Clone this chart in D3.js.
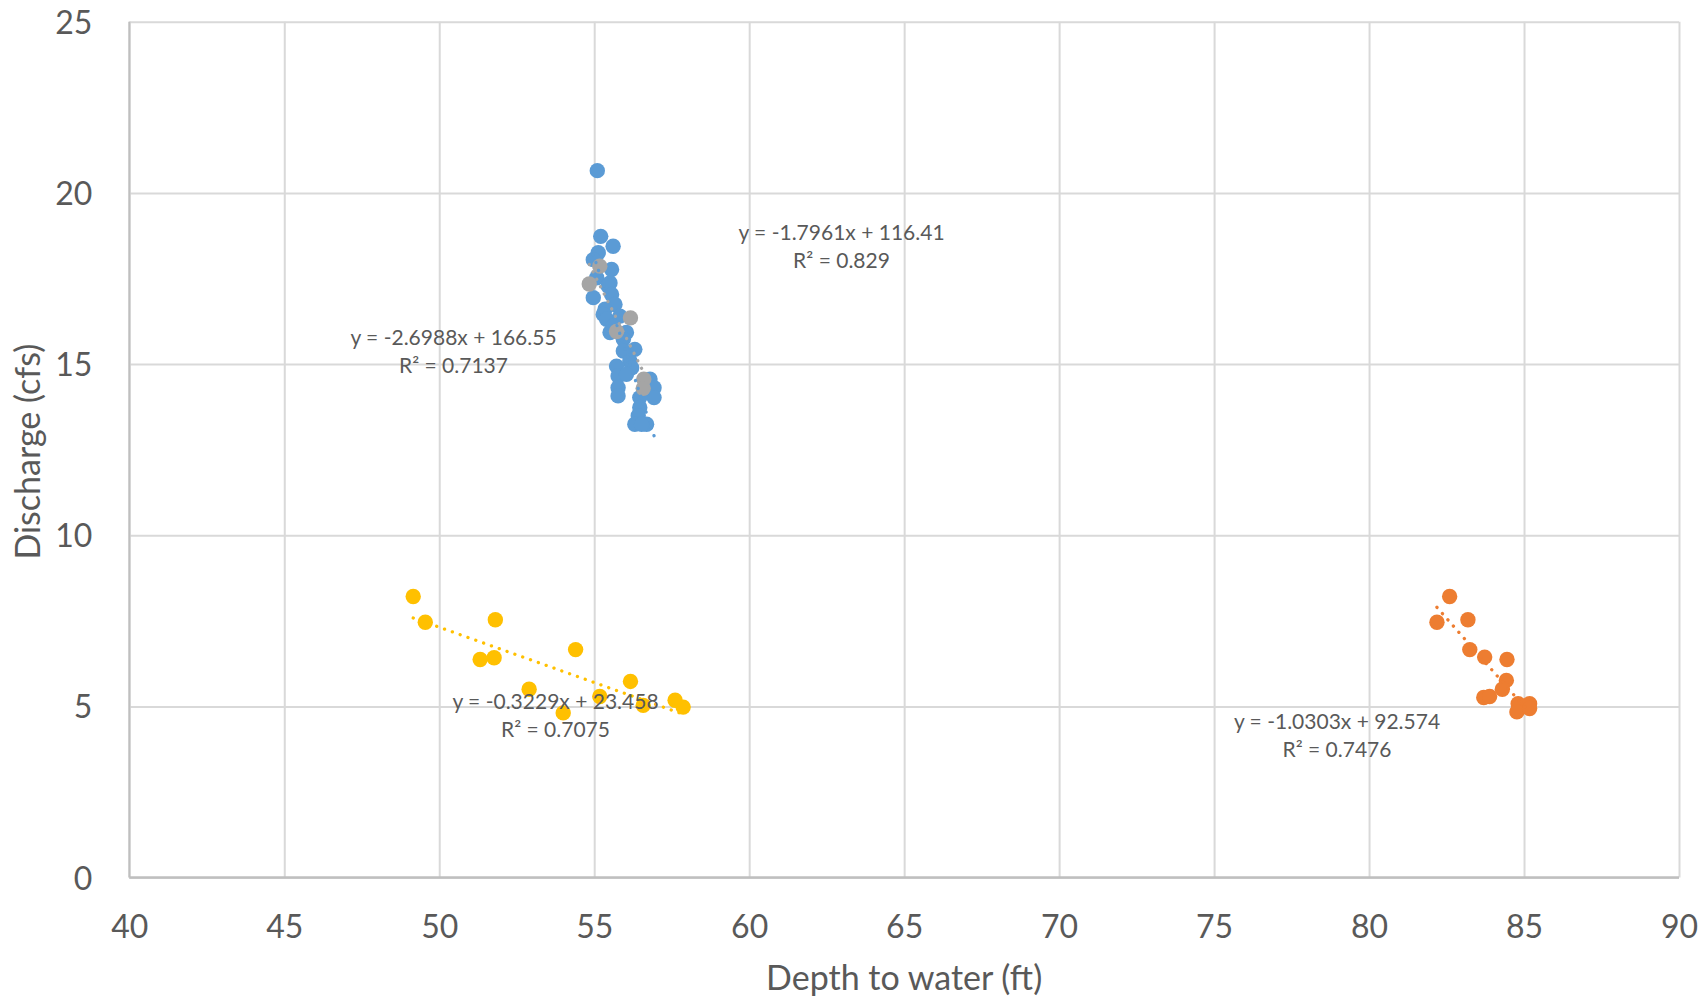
<!DOCTYPE html>
<meta charset="utf-8">
<head>
    <style>
        body {
            margin: 0;
            background: #fff;
        }

        text {
            font-family: "Lato", "Open Sans", sans-serif;
            fill: #595959;
        }

        .grid line {
            stroke: #d9d9d9;
            stroke-width: 2px;
        }

        .trend {
            fill: none;
            stroke-width: 3.3px;
            stroke-linecap: round;
            stroke-dasharray: 0.1 8.2;
        }
    </style>
</head>
<body>
    <script src="https://d3js.org/d3.v7.min.js"></script>
    <script>
        // depth to water (ft) / discharge (cfs) pairs
        var blueX = [55.10, 55.21, 55.61, 55.13, 54.97, 55.56, 55.08, 55.51, 55.45, 54.97, 55.56, 55.67, 55.35, 55.29, 55.40, 55.83, 55.61, 56.04, 55.51, 55.94, 56.31, 55.94, 56.15, 55.72, 56.21, 55.77, 56.04, 56.80, 56.93, 55.77, 55.77, 56.93, 56.47, 56.47, 56.42, 56.31, 56.69, 56.53];
        var blueY = [20.65, 18.73, 18.44, 18.25, 18.05, 17.76, 17.52, 17.37, 17.28, 16.94, 17.03, 16.74, 16.60, 16.45, 16.31, 16.40, 16.11, 15.92, 15.92, 15.72, 15.43, 15.38, 15.09, 14.94, 14.89, 14.65, 14.70, 14.56, 14.31, 14.31, 14.07, 14.02, 14.02, 13.73, 13.49, 13.24, 13.24, 13.24];

        var orangeX = [82.60, 82.19, 83.19, 83.25, 83.73, 84.45, 84.43, 84.30, 83.70, 83.89, 84.81, 85.18, 84.77, 85.18];
        var orangeY = [8.21, 7.46, 7.53, 6.66, 6.44, 6.37, 5.76, 5.50, 5.26, 5.29, 5.08, 5.08, 4.84, 4.94];

        var grayX = [55.18, 54.84, 56.17, 55.72, 56.60, 56.58];
        var grayY = [17.86, 17.34, 16.35, 15.95, 14.56, 14.29];

        var yellowX = [49.16, 49.55, 51.81, 51.32, 51.77, 54.40, 52.90, 54.00, 55.18, 56.17, 56.58, 57.61, 57.87];
        var yellowY = [8.21, 7.46, 7.53, 6.37, 6.42, 6.66, 5.50, 4.81, 5.29, 5.73, 5.03, 5.18, 4.98];

        // trendline equations as printed on the chart
        var slopes = [-2.6988, -1.0303, -1.7961, -0.3229];
        var intercepts = [166.55, 92.574, 116.41, 23.458];
        var eqLabels = ["y = -2.6988x + 166.55", "y = -1.0303x + 92.574", "y = -1.7961x + 116.41", "y = -0.3229x + 23.458"];
        var r2Labels = ["R² = 0.7137", "R² = 0.7476", "R² = 0.829", "R² = 0.7075"];

        var xTicks = [40, 45, 50, 55, 60, 65, 70, 75, 80, 85, 90];
        var yTicks = [0, 5, 10, 15, 20, 25];

        var colors = ["#5b9bd5", "#ed7d31", "#a5a5a5", "#ffc000"];

        var margin = {
                top: 21.7,
                right: 24,
                bottom: 120.4,
                left: 129.3
            },
            width = 1703 - margin.left - margin.right,
            height = 998 - margin.top - margin.bottom;

        var series = [
            [blueX, blueY],
            [orangeX, orangeY],
            [grayX, grayY],
            [yellowX, yellowY]
        ].map(function(s, i) {
            return {
                color: colors[i],
                points: s[0].map(function(x, j) {
                    return {
                        x: x,
                        y: s[1][j]
                    };
                }),
                slope: slopes[i],
                intercept: intercepts[i]
            };
        });

        var x = d3.scaleLinear().domain([40, 90]).range([0, width]);
        var y = d3.scaleLinear().domain([0, 25]).range([height, 0]);

        var svg = d3.select("body").append("svg")
            .attr("width", 1703)
            .attr("height", 998);

        var g = svg.append("g")
            .attr("transform", "translate(" + margin.left + "," + margin.top + ")");

        // gridlines
        g.append("g")
            .attr("class", "grid")
            .attr("transform", "translate(0," + height + ")")
            .call(d3.axisBottom(x).tickValues(xTicks).tickSize(-height).tickFormat(""))
            .call(function(a) {
                a.select(".domain").remove();
            });
        g.append("g")
            .attr("class", "grid")
            .call(d3.axisLeft(y).tickValues(yTicks).tickSize(-width).tickFormat(""))
            .call(function(a) {
                a.select(".domain").remove();
            });

        // axis lines
        g.append("line")
            .attr("x1", 0).attr("x2", 0)
            .attr("y1", 0).attr("y2", height)
            .style("stroke", "#bfbfbf")
            .style("stroke-width", 2);
        g.append("line")
            .attr("x1", 0).attr("x2", width)
            .attr("y1", height).attr("y2", height)
            .style("stroke", "#bfbfbf")
            .style("stroke-width", 2.5);

        // tick labels
        var xAxis = g.append("g")
            .attr("transform", "translate(0," + height + ")")
            .call(d3.axisBottom(x).tickValues(xTicks).tickSize(0));
        xAxis.select(".domain").remove();
        xAxis.selectAll("text")
            .attr("y", 60.5)
            .attr("dy", 0)
            .style("font-size", "32px")
            .style("font-family", "Lato")
            .attr("fill", "#595959");

        var yAxis = g.append("g")
            .call(d3.axisLeft(y).tickValues(yTicks).tickSize(0));
        yAxis.select(".domain").remove();
        yAxis.selectAll("text")
            .attr("x", -37)
            .attr("dy", "0.36em")
            .style("font-size", "32px")
            .style("font-family", "Lato")
            .attr("fill", "#595959");

        // markers
        series.forEach(function(s) {
            g.append("g").selectAll("circle")
                .data(s.points)
                .enter().append("circle")
                .attr("r", 7.7)
                .attr("cx", function(d) {
                    return x(d.x);
                })
                .attr("cy", function(d) {
                    return y(d.y);
                })
                .style("fill", s.color);
        });

        // dotted linear trendlines over each series' x range
        series.forEach(function(s) {
            var ext = d3.extent(s.points, function(d) {
                return d.x;
            });
            g.append("path")
                .datum(ext)
                .attr("class", "trend")
                .style("stroke", s.color)
                .attr("d", d3.line()
                    .x(function(d) {
                        return x(d);
                    })
                    .y(function(d) {
                        return y(s.slope * d + s.intercept);
                    }));
        });

        // equation labels (centre x, first baseline y, in svg px)
        var labelPos = [
            [453.5, 344.5],
            [1337, 728.5],
            [841.5, 239.5],
            [555.5, 708.5]
        ];
        labelPos.forEach(function(p, i) {
            var t = svg.append("text")
                .attr("text-anchor", "middle")
                .style("font-size", "21px");
            t.append("tspan").attr("x", p[0]).attr("y", p[1]).text(eqLabels[i]);
            t.append("tspan").attr("x", p[0]).attr("y", p[1] + 28.5).text(r2Labels[i]);
        });

        // axis titles
        svg.append("text")
            .attr("x", margin.left + width / 2)
            .attr("y", 990)
            .attr("text-anchor", "middle")
            .style("font-size", "34px")
            .text("Depth to water (ft)");

        svg.append("text")
            .attr("transform", "translate(40," + (margin.top + height / 2 + 2) + ") rotate(-90)")
            .attr("text-anchor", "middle")
            .style("font-size", "34px")
            .text("Discharge (cfs)");
    </script>
</body>
